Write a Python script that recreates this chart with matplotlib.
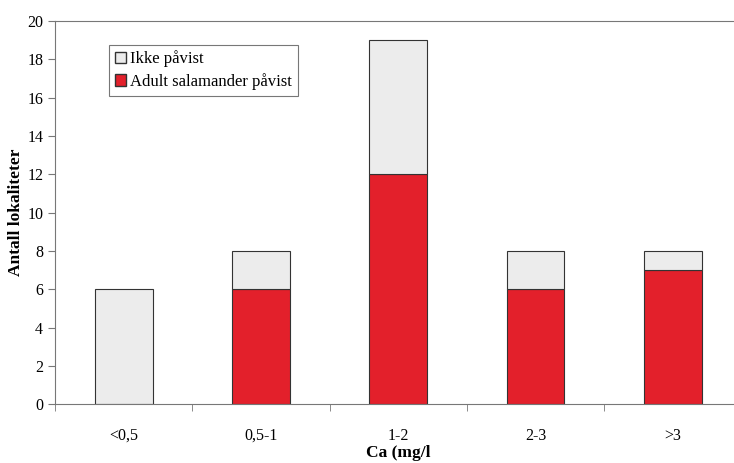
import numpy as np
from matplotlib import pyplot as plt
from matplotlib.patches import Patch

categories = ['<0,5', '0,5-1', '1-2', '2-3', '>3']
adult = [0, 6, 12, 6, 7]
ikke = [6, 2, 7, 2, 1]

plt.rcParams['font.family'] = ['Liberation Serif', 'DejaVu Serif']

fig = plt.figure(figsize=(7.34, 4.63), dpi=100)
ax = fig.add_axes([0.075, 0.127, 0.935, 0.828])

x = np.arange(len(categories))
red = '#e3202b'
grey = '#ececec'
ax.bar(x, adult, width=0.42, color=red, edgecolor='#333333', linewidth=0.8)
ax.bar(x, ikke, width=0.42, bottom=adult, color=grey, edgecolor='#333333', linewidth=0.8)

ax.set_xlim(-0.5, 4.5)
ax.set_ylim(0, 20)
ax.set_yticks(np.arange(0, 21, 2))
ax.set_xticks(x)
ax.set_xticklabels(categories, fontsize=11.5)
ax.set_xticks(np.arange(-0.5, 4.6, 1), minor=True)
ax.tick_params(axis='x', which='major', length=0, pad=17)
ax.tick_params(axis='x', which='minor', length=5, direction='out', color='#777777')
ax.tick_params(axis='y', length=5, direction='out', color='#777777', labelsize=11.5)

for s in ['left', 'bottom', 'top', 'right']:
    ax.spines[s].set_color('#777777')
    ax.spines[s].set_linewidth(0.8)

ax.set_ylabel('Antall lokaliteter', fontsize=12.5, fontweight='bold', labelpad=2)
ax.set_xlabel('Ca (mg/l', fontsize=12.5, fontweight='bold', labelpad=1)

handles = [Patch(facecolor=grey, edgecolor='#333333', label='Ikke påvist'),
           Patch(facecolor=red, edgecolor='#333333', label='Adult salamander påvist')]
leg = ax.legend(handles=handles, loc='upper left', bbox_to_anchor=(0.066, 0.96),
                fontsize=12, frameon=True, fancybox=False, handlelength=0.7,
                handleheight=0.7, handletextpad=0.25, borderpad=0.35, labelspacing=0.35)
leg.get_frame().set_edgecolor('#555555')
leg.get_frame().set_linewidth(0.8)

fig.savefig('out.png', dpi=100)
